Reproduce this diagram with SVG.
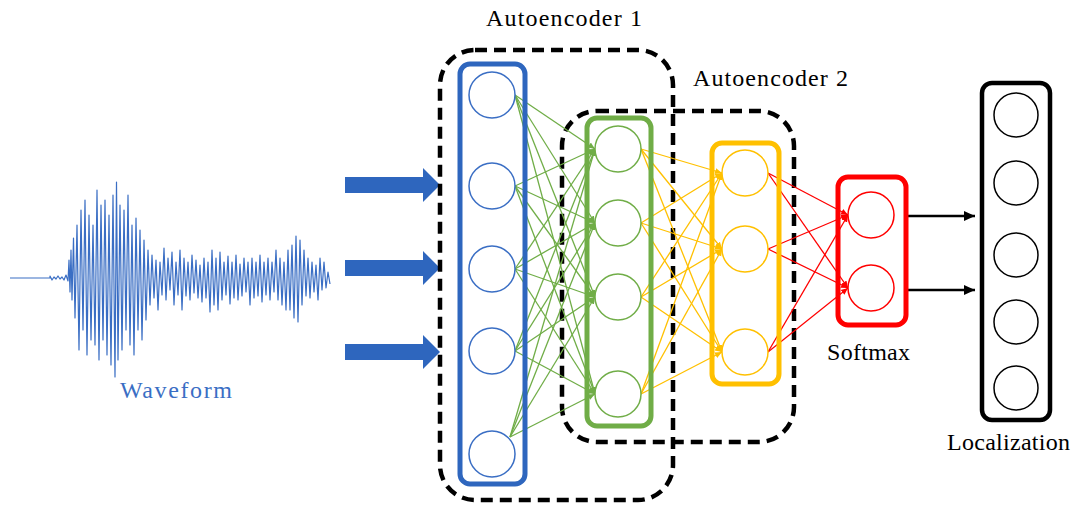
<svg xmlns="http://www.w3.org/2000/svg" width="1075" height="511" viewBox="0 0 1075 511">
<style>
.lbl{font-size:24px;fill:#000}
.dash{fill:none;stroke:#000;stroke-width:4.5;stroke-dasharray:12 7}
.col{fill:none;stroke-width:5}
.node{fill:#fff;stroke-width:1.5}
.gl{stroke:#70AD47;stroke-width:1.3;marker-end:url(#ag)}
.yl{stroke:#FFC000;stroke-width:1.3;marker-end:url(#ay)}
.rl{stroke:#FF0000;stroke-width:1.3;marker-end:url(#ar)}
</style>
<defs>
<marker id="ag" markerUnits="userSpaceOnUse" markerWidth="8" markerHeight="8" refX="7" refY="4" orient="auto"><path d="M0,1 L7,4 L0,7 Z" fill="#70AD47"/></marker>
<marker id="ay" markerUnits="userSpaceOnUse" markerWidth="8" markerHeight="8" refX="7" refY="4" orient="auto"><path d="M0,1 L7,4 L0,7 Z" fill="#FFC000"/></marker>
<marker id="ar" markerUnits="userSpaceOnUse" markerWidth="8" markerHeight="8" refX="7" refY="4" orient="auto"><path d="M0,1 L7,4 L0,7 Z" fill="#FF0000"/></marker>
<marker id="ak" markerUnits="userSpaceOnUse" markerWidth="12" markerHeight="12" refX="11" refY="6" orient="auto"><path d="M0,1 L11,6 L0,11 Z" fill="#000"/></marker>
</defs>
<rect width="1075" height="511" fill="#fff"/>

<g id="waveform">
<polyline fill="none" stroke="#3A6EC4" stroke-width="1.2" stroke-linejoin="round" points="10,278 50,278 50,276 52,280 54,277 56,279 58,276 60,279 62,277 64,280 66,275 68,281 69,260 70,292 71,250 72,300 73.5,238 75,318 77,225 79,350 81,210 83,330 85,200 87,355 89,215 91,340 93,225 95,345 97,190 99,360 101,205 103,340 105,200 107,355 109,215 111,365 113,195 115,377 116.5,182 118,360 120,205 122,350 124,210 126,330 128,195 130,345 132,225 134,355 136,218 138,330 140,230 142,340 144,240 146,320 148,250 150,305 152,255 154,298 156,260 158,310 160,262 162,295 164,248 166,300 168,258 170,290 172,252 174,305 176,262 178,295 180,250 182,310 184,258 186,296 188,262 190,300 192,255 194,293 196,260 198,298 200,265 202,302 204,258 206,298 208,262 210,312 212,250 214,305 216,258 218,310 220,252 222,300 224,262 226,295 228,256 230,304 232,262 234,298 236,255 238,300 240,264 242,296 244,258 246,292 248,262 250,305 252,258 254,298 256,262 258,296 260,255 262,302 264,262 266,295 268,258 270,300 272,262 274,292 276,250 278,300 280,258 282,305 284,262 286,310 288,250 290,310 292,245 294,318 296,236 298,322 300,240 302,305 304,250 306,296 308,258 310,298 312,262 314,292 316,265 318,300 320,258 322,290 324,262 326,288 328,272 330,284"/>
<text class="lbl" font-family="Liberation Serif, serif" x="120" y="398" textLength="112" lengthAdjust="spacing" style="fill:#3A6EC4">Waveform</text>
</g>

<g id="input-arrows" fill="#2E66BE">
<polygon points="345,177 423,177 423,168 440,185 423,202 423,193 345,193"/>
<polygon points="345,260 423,260 423,251 440,268 423,285 423,276 345,276"/>
<polygon points="345,344 423,344 423,335 440,352 423,369 423,360 345,360"/>
</g>

<g id="autoencoder1">
<rect class="dash" x="440" y="50" width="233" height="450" rx="35"/>
<text class="lbl" font-family="Liberation Serif, serif" x="486" y="26" textLength="156" lengthAdjust="spacing">Autoencoder 1</text>
</g>
<g id="autoencoder2">
<rect class="dash" x="562" y="111" width="232" height="331" rx="35"/>
<text class="lbl" font-family="Liberation Serif, serif" x="693" y="86" textLength="155" lengthAdjust="spacing">Autoencoder 2</text>
</g>

<g id="connectors">
<line class="gl" x1="515" y1="95" x2="595" y2="149"/><line class="gl" x1="515" y1="95" x2="595" y2="223"/><line class="gl" x1="515" y1="95" x2="595" y2="297"/><line class="gl" x1="515" y1="95" x2="595" y2="394"/>
<line class="gl" x1="515" y1="186" x2="595" y2="149"/><line class="gl" x1="515" y1="186" x2="595" y2="223"/><line class="gl" x1="515" y1="186" x2="595" y2="297"/><line class="gl" x1="515" y1="186" x2="595" y2="394"/>
<line class="gl" x1="515" y1="269" x2="595" y2="149"/><line class="gl" x1="515" y1="269" x2="595" y2="223"/><line class="gl" x1="515" y1="269" x2="595" y2="297"/><line class="gl" x1="515" y1="269" x2="595" y2="394"/>
<line class="gl" x1="515" y1="351" x2="595" y2="149"/><line class="gl" x1="515" y1="351" x2="595" y2="223"/><line class="gl" x1="515" y1="351" x2="595" y2="297"/><line class="gl" x1="515" y1="351" x2="595" y2="394"/>
<line class="gl" x1="510" y1="437" x2="595" y2="149"/><line class="gl" x1="510" y1="437" x2="595" y2="223"/><line class="gl" x1="510" y1="437" x2="595" y2="297"/><line class="gl" x1="510" y1="437" x2="595" y2="394"/>

<line class="yl" x1="641" y1="149" x2="722" y2="173"/><line class="yl" x1="641" y1="149" x2="722" y2="249"/><line class="yl" x1="641" y1="149" x2="722" y2="352"/>
<line class="yl" x1="641" y1="223" x2="722" y2="173"/><line class="yl" x1="641" y1="223" x2="722" y2="249"/><line class="yl" x1="641" y1="223" x2="722" y2="352"/>
<line class="yl" x1="641" y1="297" x2="722" y2="173"/><line class="yl" x1="641" y1="297" x2="722" y2="249"/><line class="yl" x1="641" y1="297" x2="722" y2="352"/>
<line class="yl" x1="641" y1="394" x2="722" y2="173"/><line class="yl" x1="641" y1="394" x2="722" y2="249"/><line class="yl" x1="641" y1="394" x2="722" y2="352"/>

<line class="rl" x1="768" y1="173" x2="848" y2="215"/><line class="rl" x1="768" y1="173" x2="848" y2="288"/>
<line class="rl" x1="768" y1="249" x2="848" y2="215"/><line class="rl" x1="768" y1="249" x2="848" y2="288"/>
<line class="rl" x1="768" y1="352" x2="848" y2="215"/><line class="rl" x1="768" y1="352" x2="848" y2="288"/>

<line x1="907" y1="216" x2="975" y2="216" stroke="#000" stroke-width="2.5" marker-end="url(#ak)"/>
<line x1="907" y1="290" x2="975" y2="290" stroke="#000" stroke-width="2.5" marker-end="url(#ak)"/>
</g>

<g id="input-layer">
<rect class="col" x="460" y="64" width="65" height="420" rx="10" stroke="#2E66BE"/>
<g class="node" stroke="#3A6EC4">
<circle cx="492" cy="95" r="23"/><circle cx="492" cy="186" r="23"/><circle cx="492" cy="269" r="23"/><circle cx="492" cy="351" r="23"/><circle cx="492" cy="454" r="23"/>
</g>
</g>

<g id="hidden-layer1">
<rect class="col" x="587" y="118" width="64" height="308" rx="10" stroke="#70AD47"/>
<g class="node" stroke="#70AD47">
<circle cx="618" cy="149" r="23"/><circle cx="618" cy="223" r="23"/><circle cx="618" cy="297" r="23"/><circle cx="618" cy="394" r="23"/>
</g>
</g>

<g id="hidden-layer2">
<rect class="col" x="712" y="143" width="67" height="241" rx="10" stroke="#FFC000"/>
<g class="node" stroke="#FFC000">
<circle cx="745" cy="173" r="23"/><circle cx="745" cy="249" r="23"/><circle cx="745" cy="352" r="23"/>
</g>
</g>

<g id="softmax">
<rect class="col" x="838" y="177" width="68" height="148" rx="10" stroke="#FF0000"/>
<g class="node" stroke="#FF0000">
<circle cx="871" cy="215" r="23"/><circle cx="871" cy="288" r="23"/>
</g>
<text class="lbl" font-family="Liberation Serif, serif" x="827" y="360" textLength="83" lengthAdjust="spacing">Softmax</text>
</g>

<g id="localization">
<rect x="982" y="83" width="68" height="337" rx="10" fill="none" stroke="#000" stroke-width="4.5"/>
<g class="node" stroke="#000">
<circle cx="1016" cy="115" r="22"/><circle cx="1016" cy="183" r="22"/><circle cx="1016" cy="255" r="22"/><circle cx="1016" cy="322" r="22"/><circle cx="1016" cy="388" r="22"/>
</g>
<text class="lbl" font-family="Liberation Serif, serif" x="947" y="450" textLength="123" lengthAdjust="spacing">Localization</text>
</g>
</svg>
